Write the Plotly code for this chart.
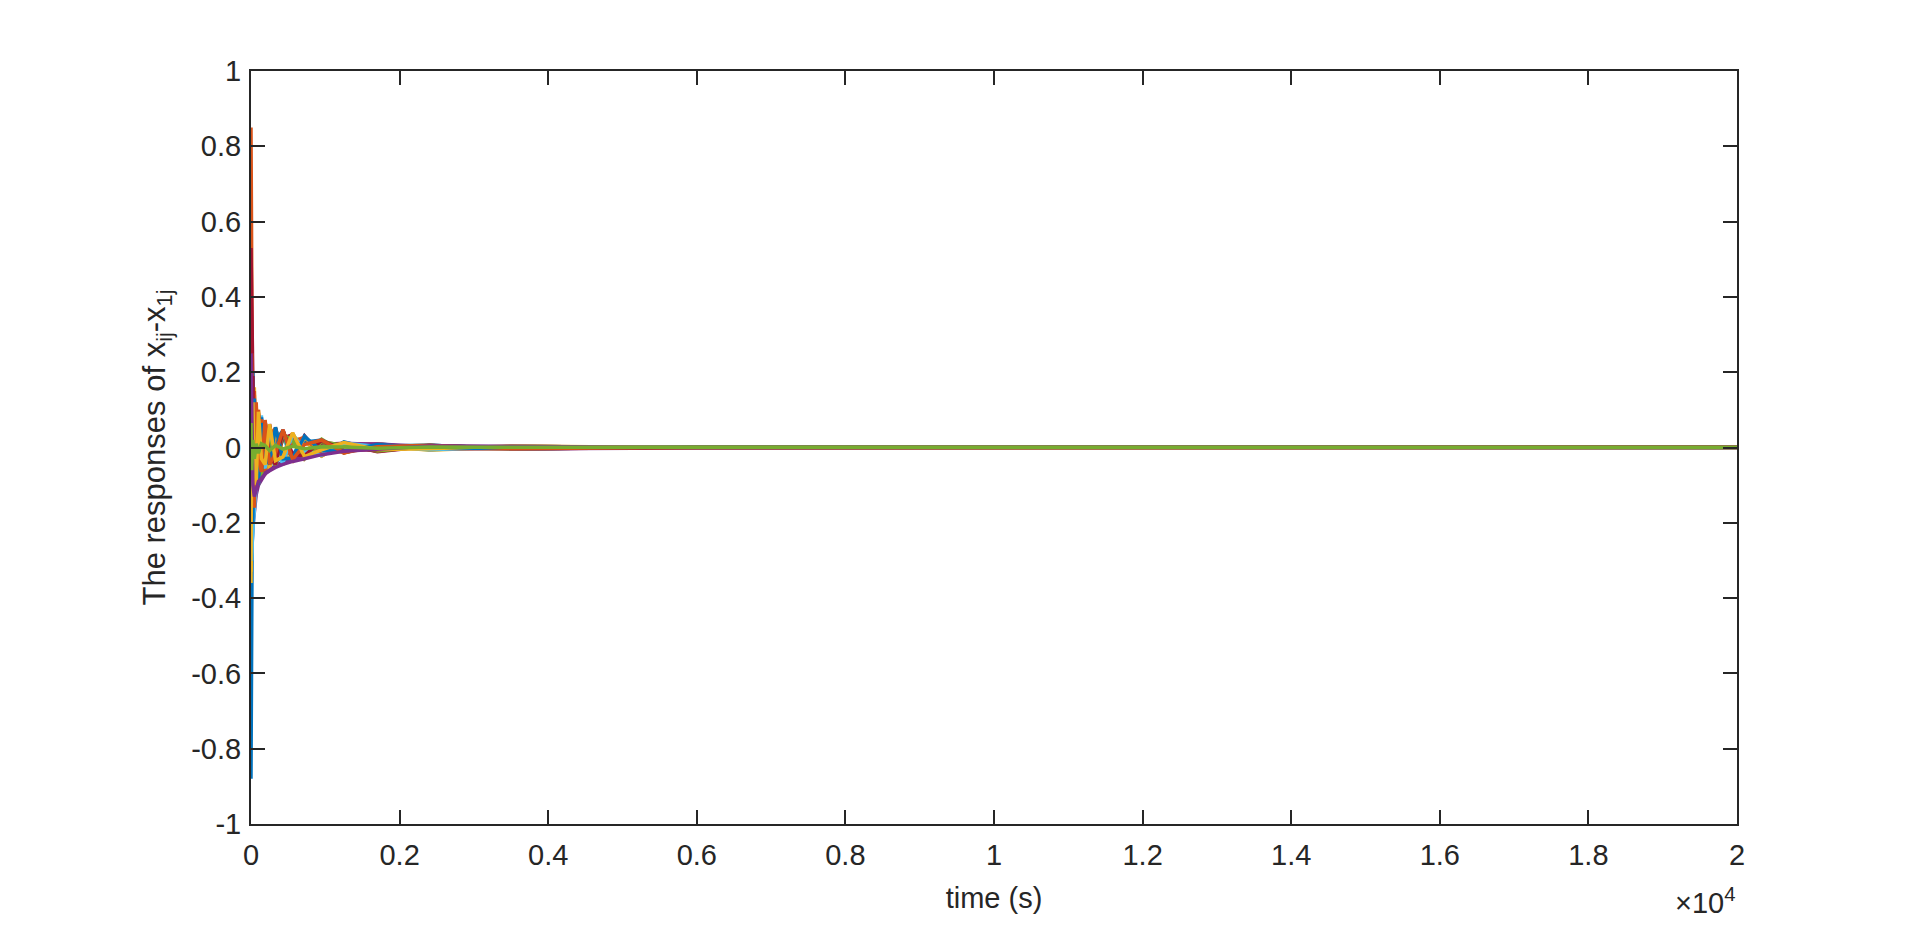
import plotly.graph_objects as go

t = [0, 10, 25, 45, 70, 100, 140, 190, 250, 330, 430, 560, 720, 950, 1250, 1700, 2400, 3500, 6000, 20000]

# x_ij - x_1j responses (one list per curve, plotted in this order)
r01 = [-0.88, -0.12, 0.15, -0.10, 0.07, -0.09, 0.075, -0.06, 0.058, -0.045, 0.042, -0.034, 0.024, -0.013, 0.009, -0.005, 0.003, -0.002, 0.001, 0.0005]
r02 = [0.85, 0.20, -0.12, 0.14, -0.11, 0.085, -0.07, 0.07, -0.055, 0.05, -0.04, 0.033, -0.027, 0.016, -0.011, 0.007, -0.004, 0.002, -0.001, 0.0003]
r03 = [-0.36, 0.10, -0.16, 0.12, -0.10, 0.10, -0.075, 0.06, -0.06, 0.05, -0.038, 0.036, -0.024, 0.02, -0.014, 0.009, -0.006, 0.003, -0.0015, 0.0006]
r04 = [0.28, -0.15, 0.08, -0.13, 0.10, -0.07, 0.08, -0.065, 0.05, -0.05, 0.044, -0.034, 0.028, -0.018, 0.012, -0.008, 0.005, -0.003, 0.0015, -0.0005]
r05 = [-0.20, 0.17, -0.10, 0.08, -0.12, 0.09, -0.06, 0.07, -0.055, 0.04, -0.045, 0.036, -0.022, 0.022, -0.013, 0.01, -0.004, 0.003, -0.001, 0.0004]
r06 = [-0.30, -0.26, -0.19, -0.14, 0.05, -0.10, 0.085, -0.05, 0.04, -0.055, 0.03, -0.038, 0.03, -0.017, 0.014, -0.006, 0.006, -0.002, 0.0018, -0.0006]
r07 = [0.53, 0.30, 0.18, -0.06, 0.11, -0.095, 0.055, -0.072, 0.062, -0.03, 0.047, -0.028, 0.031, -0.022, 0.009, -0.011, 0.003, -0.004, 0.0008, -0.0003]
r08 = [0.18, -0.20, 0.12, -0.15, 0.08, -0.05, 0.08, -0.06, 0.03, -0.052, 0.04, -0.022, 0.03, -0.021, 0.015, -0.007, 0.006, -0.0025, 0.001, 0.0002]
r09 = [-0.15, 0.22, -0.18, 0.10, -0.06, 0.10, -0.084, 0.04, -0.062, 0.052, -0.02, 0.038, -0.03, 0.012, -0.015, 0.01, -0.005, 0.003, -0.0012, 0.0004]
r10 = [-0.33, -0.22, 0.06, 0.16, -0.125, 0.06, 0.065, -0.072, 0.045, 0.035, -0.047, 0.025, 0.018, -0.023, 0.01, 0.006, -0.007, 0.002, 0.0015, -0.0008]
r11 = [0.35, -0.28, -0.21, -0.16, -0.125, -0.10, -0.085, -0.07, -0.058, -0.048, -0.038, -0.03, -0.016, 0.008, 0.011, 0.008, -0.003, -0.004, 0.001, 0.0003]
r12 = [0.12, 0.05, 0.10, -0.03, 0.09, -0.07, 0.04, 0.045, -0.05, 0.025, 0.035, -0.03, 0.012, 0.014, -0.012, 0.004, 0.005, -0.003, 0.0005, -0.0002]
r13 = [-0.25, -0.30, -0.20, 0.03, -0.09, 0.065, -0.05, 0.06, -0.04, 0.045, -0.045, 0.03, -0.018, 0.02, -0.009, 0.01, -0.002, 0.003, -0.0014, 0.0005]
r14 = [0.45, 0.26, -0.06, 0.12, -0.08, 0.09, -0.075, 0.03, 0.055, -0.045, 0.025, 0.034, -0.028, 0.014, 0.007, -0.01, 0.004, 0.001, -0.0016, 0.0006]
r15 = [0.10, -0.17, 0.20, -0.09, 0.11, -0.075, 0.03, 0.065, -0.06, 0.02, 0.045, -0.036, 0.014, 0.02, -0.013, 0.004, 0.006, -0.003, 0.0008, -0.0004]
r16 = [-0.08, 0.25, -0.10, 0.15, -0.10, 0.04, 0.075, -0.073, 0.03, 0.052, -0.042, 0.015, 0.028, -0.02, 0.006, 0.009, -0.005, 0.0015, 0.0012, -0.0005]
r17 = [0.20, -0.10, 0.14, -0.14, 0.05, -0.10, 0.06, 0.035, -0.063, 0.045, -0.015, -0.036, 0.026, -0.008, -0.012, 0.007, -0.002, -0.003, 0.001, 0.0001]
r18 = [-0.27, -0.24, -0.17, -0.15, -0.115, -0.095, -0.08, -0.068, -0.06, -0.05, -0.042, -0.034, -0.022, -0.007, 0.009, 0.009, 0.002, -0.003, -0.001, 0.0004]
r19 = [0.07, -0.08, 0.06, 0.11, -0.07, 0.03, -0.08, 0.055, 0.015, -0.048, 0.035, 0.018, -0.03, 0.016, 0.005, -0.009, 0.003, 0.002, -0.0015, -0.0003]
r20 = [-0.22, -0.28, -0.22, -0.16, -0.10, 0.075, -0.035, -0.055, 0.05, -0.015, -0.042, 0.036, -0.008, -0.021, 0.012, 0.003, -0.006, 0.002, 0.0006, -0.0007]
r21 = [0.40, 0.15, 0.19, -0.10, 0.06, 0.085, -0.065, 0.068, -0.025, -0.045, 0.044, -0.018, -0.022, 0.019, -0.007, -0.006, 0.005, -0.002, -0.0012, 0.0004]
r22 = [-0.12, 0.08, -0.20, 0.13, 0.03, -0.10, 0.065, -0.025, -0.045, 0.054, -0.03, -0.028, 0.029, -0.008, -0.01, 0.008, -0.002, -0.002, 0.0014, -0.0002]
r23 = [0.15, -0.12, 0.07, -0.16, 0.12, -0.03, -0.065, 0.073, -0.045, -0.015, 0.047, -0.032, 0.008, 0.02, -0.014, 0.002, 0.006, -0.003, 0.0004, 0.0006]
r24 = [-0.30, 0.05, 0.12, -0.05, -0.10, 0.095, -0.03, -0.045, 0.062, -0.035, -0.025, 0.039, -0.024, -0.006, 0.013, -0.005, -0.003, 0.004, -0.0008, -0.0005]
r25 = [0.25, 0.10, -0.10, -0.13, -0.11, -0.09, -0.082, -0.07, -0.062, -0.053, -0.045, -0.037, -0.03, -0.019, -0.01, -0.004, 0.004, 0.003, -0.0005, 0.0002]
r26 = [0.065, -0.06, 0.02, -0.03, 0.01, -0.015, 0.01, 0.005, -0.008, 0.006, -0.004, 0.003, -0.003, 0.002, 0.001, -0.002, 0.001, 0.0008, 0.0005, 0.0005]

responses = [r01, r02, r03, r04, r05, r06, r07, r08, r09, r10, r11, r12, r13,
             r14, r15, r16, r17, r18, r19, r20, r21, r22, r23, r24, r25, r26]

# axis ticks
x_ticks = [0, 2000, 4000, 6000, 8000, 10000, 12000, 14000, 16000, 18000, 20000]
x_tick_text = ["0", "0.2", "0.4", "0.6", "0.8", "1", "1.2", "1.4", "1.6", "1.8", "2"]
y_ticks = [-1, -0.8, -0.6, -0.4, -0.2, 0, 0.2, 0.4, 0.6, 0.8, 1]
y_tick_text = ["-1", "-0.8", "-0.6", "-0.4", "-0.2", "0", "0.2", "0.4", "0.6", "0.8", "1"]

# matlab default color order
colors = ["#0072BD", "#D95319", "#EDB120", "#7E2F8E", "#77AC30", "#4DBEEE", "#A2142F"]

ink = "#262626"
font = "Liberation Sans, Arial, sans-serif"
fsize = 29

fig = go.Figure()
for i, r in enumerate(responses):
    fig.add_trace(go.Scatter(
        x=t, y=r, mode="lines", showlegend=False,
        line=dict(color=colors[i % len(colors)], width=3.5),
    ))

axis_style = dict(
    showline=True, linecolor=ink, linewidth=2, mirror="ticks",
    ticks="inside", ticklen=14, tickwidth=2, tickcolor=ink,
    showgrid=False, zeroline=False,
    tickfont=dict(family=font, size=fsize, color=ink),
)

fig.update_xaxes(
    range=[0, 20000], tickvals=x_ticks, ticktext=x_tick_text,
    ticklabelstandoff=4,
    title=dict(text="time (s)", font=dict(family=font, size=fsize, color=ink), standoff=18),
    **axis_style,
)
fig.update_yaxes(
    range=[-1, 1], tickvals=y_ticks, ticktext=y_tick_text,
    ticklabelstandoff=2,
    title=dict(text="The responses of x<sub>ij</sub>-x<sub>1j</sub>",
               font=dict(family=font, size=31, color=ink), standoff=16),
    **axis_style,
)

# exponent label under the right end of the x axis
fig.add_annotation(
    text="\u00d710<sup>4</sup>", xref="paper", yref="paper",
    x=1.0, y=-0.102, xanchor="right", yanchor="middle", showarrow=False,
    font=dict(family=font, size=fsize, color=ink),
)

# the page body has an 8px margin, so the figure is a bit smaller than the window
fig.update_layout(
    width=1912, height=919,
    margin=dict(l=243, r=183, t=63, b=103),
    plot_bgcolor="white", paper_bgcolor="white",
)

fig.write_html("out.html")
